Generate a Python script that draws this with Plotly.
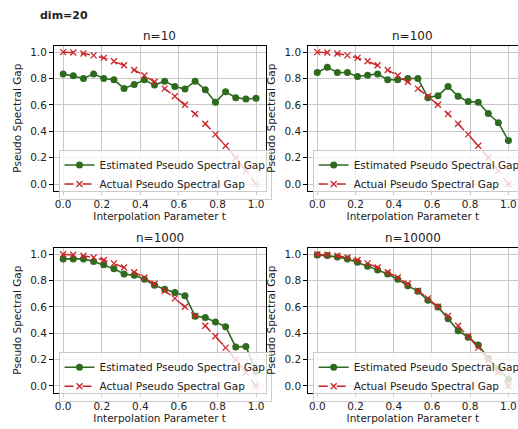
import plotly.graph_objects as go

t_values = [0.0, 0.0526, 0.1053, 0.1579, 0.2105, 0.2632, 0.3158, 0.3684, 0.4211, 0.4737,
            0.5263, 0.5789, 0.6316, 0.6842, 0.7368, 0.7895, 0.8421, 0.8947, 0.9474, 1.0]

actual_gap = [1.0, 0.997, 0.989, 0.975, 0.956, 0.931, 0.900, 0.864, 0.823, 0.776,
              0.723, 0.665, 0.601, 0.532, 0.457, 0.377, 0.291, 0.199, 0.102, 0.0]

est_n10 = [0.835, 0.82, 0.80, 0.835, 0.80, 0.79, 0.725, 0.755, 0.79, 0.75,
           0.78, 0.74, 0.72, 0.78, 0.715, 0.62, 0.70, 0.655, 0.645, 0.65]
est_n100 = [0.845, 0.885, 0.845, 0.845, 0.815, 0.825, 0.835, 0.79, 0.79, 0.80,
            0.80, 0.655, 0.67, 0.74, 0.665, 0.625, 0.62, 0.535, 0.465, 0.33]
est_n1000 = [0.965, 0.965, 0.965, 0.945, 0.92, 0.89, 0.85, 0.84, 0.81, 0.765,
             0.735, 0.71, 0.685, 0.53, 0.52, 0.485, 0.45, 0.295, 0.30, 0.11]
est_n10000 = [0.995, 0.99, 0.98, 0.965, 0.94, 0.91, 0.88, 0.85, 0.81, 0.76,
              0.72, 0.65, 0.60, 0.51, 0.42, 0.37, 0.31, 0.21, 0.13, 0.05]

panel_titles = ["n=10", "n=100", "n=1000", "n=10000"]
estimates = [est_n10, est_n100, est_n1000, est_n10000]
tick_vals = [0.0, 0.2, 0.4, 0.6, 0.8, 1.0]
tick_text = ["0.0", "0.2", "0.4", "0.6", "0.8", "1.0"]

W, H = 518, 429
GREEN = "#2e6b1f"
RED = "#cc2529"
FONT = "DejaVu Sans"

# pixel boxes in the screenshot (left, right, top, bottom)
boxes = [(53.5, 265.7, 45.5, 190.7), (307.7, 518.0, 45.5, 190.7),
         (53.5, 265.7, 247.7, 392.5), (307.7, 518.0, 247.7, 392.5)]


def px(x):
    return min(max(x / W, 0.0), 1.0)


def py(y):
    return min(max(1 - y / H, 0.0), 1.0)


fig = go.Figure()
layout = dict(
    width=W, height=H, margin=dict(l=0, r=0, t=0, b=0, autoexpand=False),
    paper_bgcolor="white", plot_bgcolor="white",
    font=dict(family=FONT, size=10, color="#222"),
    showlegend=True, annotations=[],
)

for i, (title, est) in enumerate(zip(panel_titles, estimates)):
    idx = "" if i == 0 else str(i + 1)
    leg = "legend" if i == 0 else f"legend{i + 1}"
    l, r, tp, bt = boxes[i]
    fig.add_trace(go.Scatter(
        x=t_values, y=est, mode="lines+markers", name="Estimated Pseudo Spectral Gap",
        line=dict(color=GREEN, width=1.6), marker=dict(color=GREEN, size=7, symbol="circle"),
        xaxis="x" + idx, yaxis="y" + idx, legend=leg, cliponaxis=False))
    fig.add_trace(go.Scatter(
        x=t_values, y=actual_gap, mode="lines+markers", name="Actual Pseudo Spectral Gap",
        line=dict(color=RED, width=1.5, dash="dash"),
        marker=dict(color=RED, size=6, symbol="x-thin", line=dict(color=RED, width=1.3)),
        xaxis="x" + idx, yaxis="y" + idx, legend=leg, cliponaxis=False))
    axcommon = dict(range=[-0.05, 1.05], tickvals=tick_vals, ticktext=tick_text,
                    showgrid=True, gridcolor="#c8c8c8", gridwidth=1, automargin=False,
                    showline=True, linecolor="black", linewidth=1, mirror=True,
                    ticks="outside", ticklen=3.5, tickcolor="black",
                    tickfont=dict(family=FONT, size=10.5, color="#222"), zeroline=False)
    layout["xaxis" + idx] = dict(axcommon, domain=[px(l), px(r)], anchor="y" + idx,
                                 title=dict(text="Interpolation Parameter t",
                                            font=dict(family=FONT, size=10.5), standoff=3))
    layout["yaxis" + idx] = dict(axcommon, domain=[py(bt), py(tp)], anchor="x" + idx,
                                 title=dict(text="Pseudo Spectral Gap",
                                            font=dict(family=FONT, size=10.5), standoff=6))
    layout[leg] = dict(x=px(l + 5), y=py(tp + 104), xanchor="left", yanchor="top",
                       bgcolor="rgba(255,255,255,0.8)", bordercolor="#cccccc", borderwidth=1,
                       font=dict(family=FONT, size=10.5, color="#222"),
                       tracegroupgap=0, itemwidth=30)
    layout["annotations"].append(dict(
        text=title, x=px((l + r) / 2), y=py(tp - 10), xref="paper", yref="paper",
        showarrow=False, font=dict(family=FONT, size=12, color="#222"),
        xanchor="center", yanchor="middle"))

layout["annotations"].append(dict(
    text="<b>dim=20</b>", x=px(63.5), y=py(15), xref="paper", yref="paper",
    showarrow=False, font=dict(family=FONT, size=11, color="#222"),
    xanchor="center", yanchor="middle"))

fig.update_layout(**layout)
fig.write_html("out.html", config={"displayModeBar": False},
               post_script="document.body.style.margin='0';document.body.style.overflow='hidden';")
